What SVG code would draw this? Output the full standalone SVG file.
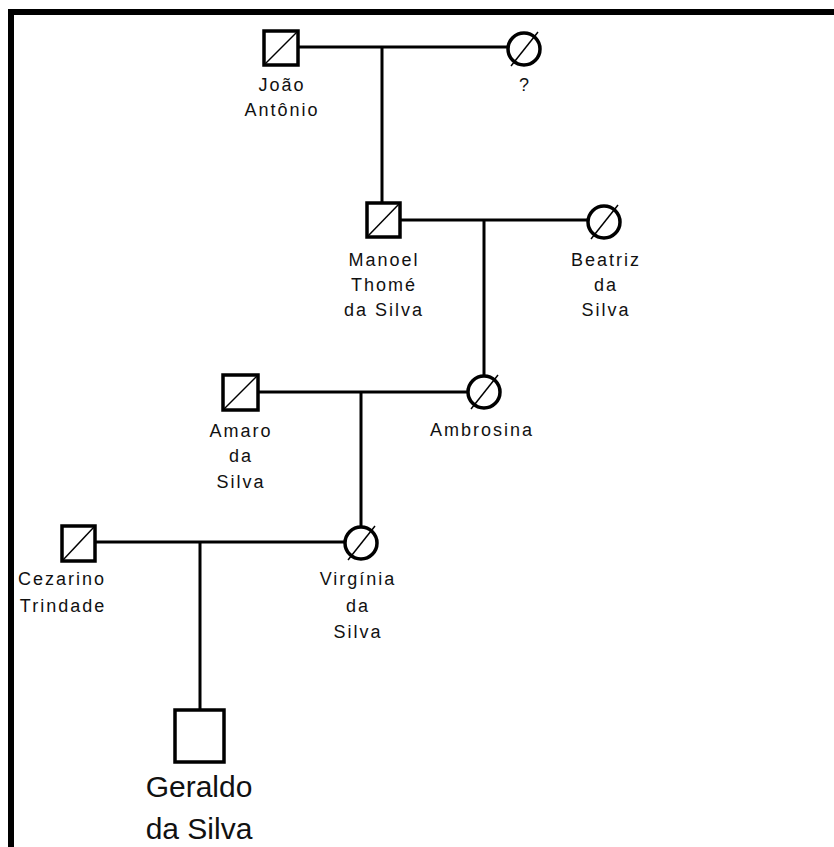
<svg xmlns="http://www.w3.org/2000/svg" width="834" height="847" viewBox="0 0 834 847">
<style>
.m{fill:#fff;stroke:#000;stroke-width:3.5}
.d{stroke:#000;stroke-width:1.5}
.l{fill:none;stroke:#000;stroke-width:3}
.t{font-family:"Liberation Sans",Arial,sans-serif;font-size:18px;letter-spacing:2px;fill:#111;text-anchor:middle}
.b{font-family:"Liberation Sans",Arial,sans-serif;font-size:30px;fill:#111;text-anchor:middle}
</style>
<rect x="0" y="0" width="834" height="847" fill="#fff"/>
<rect x="8" y="9" width="826" height="6" fill="#000"/>
<rect x="8" y="9" width="6" height="838" fill="#000"/>
<g id="connectors">
<path class="l" d="M299 47H507M382 47V202"/>
<path class="l" d="M400 220H587M484 220V375"/>
<path class="l" d="M258 392H467M361 392V526"/>
<path class="l" d="M95 542H345M200 542V710"/>
</g>
<g id="joao">
<rect class="m" x="264" y="31" width="34" height="34"/>
<line class="d" x1="265" y1="64" x2="297" y2="32"/>
<text class="t" x="282" y="91">João</text>
<text class="t" x="282" y="116">Antônio</text>
</g>
<g id="unknown">
<circle class="m" cx="524" cy="49" r="16"/>
<line class="d" x1="511" y1="66" x2="538" y2="32"/>
<text class="t" x="525" y="91">?</text>
</g>
<g id="manoel">
<rect class="m" x="367" y="203" width="33" height="34"/>
<line class="d" x1="368" y1="236" x2="399" y2="204"/>
<text class="t" x="384" y="266">Manoel</text>
<text class="t" x="384" y="291">Thomé</text>
<text class="t" x="384" y="316">da Silva</text>
</g>
<g id="beatriz">
<circle class="m" cx="604" cy="222" r="16"/>
<line class="d" x1="591" y1="239" x2="618" y2="205"/>
<text class="t" x="606" y="266">Beatriz</text>
<text class="t" x="606" y="291">da</text>
<text class="t" x="606" y="316">Silva</text>
</g>
<g id="amaro">
<rect class="m" x="223" y="375" width="35" height="35"/>
<line class="d" x1="224" y1="409" x2="257" y2="376"/>
<text class="t" x="241" y="437">Amaro</text>
<text class="t" x="241" y="462">da</text>
<text class="t" x="241" y="488">Silva</text>
</g>
<g id="ambrosina">
<circle class="m" cx="484" cy="392" r="16"/>
<line class="d" x1="471" y1="409" x2="498" y2="375"/>
<text class="t" x="482" y="436">Ambrosina</text>
</g>
<g id="cezarino">
<rect class="m" x="62" y="526" width="33" height="35"/>
<line class="d" x1="63" y1="560" x2="94" y2="527"/>
<text class="t" x="62" y="585">Cezarino</text>
<text class="t" x="63" y="612">Trindade</text>
</g>
<g id="virginia">
<circle class="m" cx="361" cy="543" r="16"/>
<line class="d" x1="348" y1="560" x2="375" y2="526"/>
<text class="t" x="358" y="585">Virgínia</text>
<text class="t" x="358" y="612">da</text>
<text class="t" x="358" y="638">Silva</text>
</g>
<g id="geraldo">
<rect class="m" x="175" y="710" width="49" height="52"/>
<text class="b" x="199" y="797">Geraldo</text>
<text class="b" x="199" y="839">da Silva</text>
</g>
</svg>
